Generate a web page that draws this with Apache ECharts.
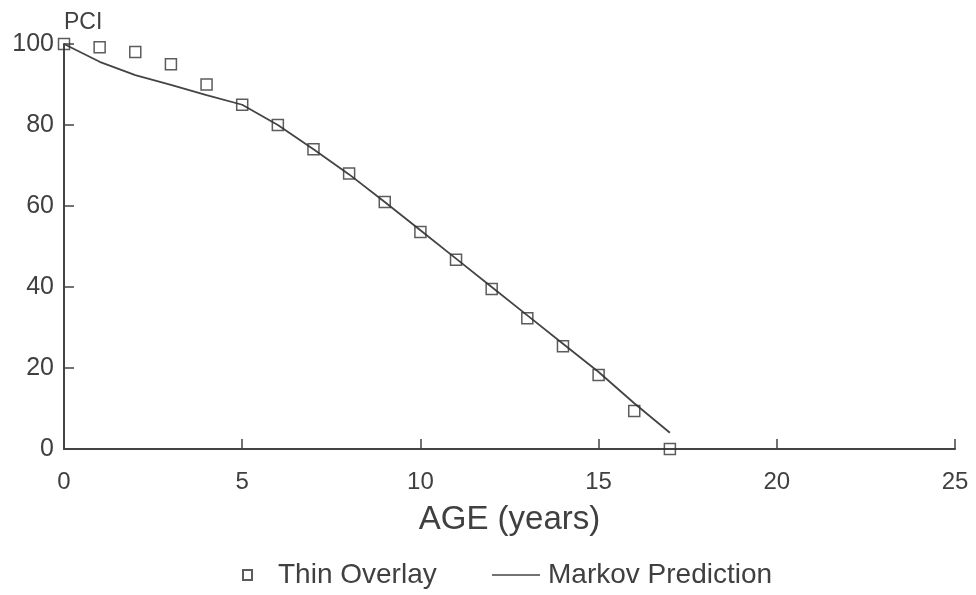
<!DOCTYPE html>
<html>
<head>
<meta charset="utf-8">
<script src="https://cdn.jsdelivr.net/npm/echarts@6/dist/echarts.min.js"></script>
<style>html,body{margin:0;padding:0;background:#fff}#c{width:976px;height:595px}</style>
</head>
<body>
<div id="c"></div>
<script>
// Observed PCI (Thin Overlay) by age
const overlayAge = [0,1,2,3,4,5,6,7,8,9,10,11,12,13,14,15,16,17];
const overlayPCI = [100,99.2,98,95,90,85,80,74,68,61,53.6,46.7,39.5,32.3,25.4,18.3,9.4,0];
// Markov prediction curve
const markovAge = [0,1,2,3,4,5,6,7,8,9,10,11,12,13,14,15,16,17];
const markovPCI = [100,95.6,92.3,89.9,87.4,85,80,74,67.8,61,54,47,40,33,26,19,11.3,4];
const xTicks = [0,5,10,15,20,25];
const yTicks = [0,20,40,60,80,100];

const font = 'Liberation Sans, Arial, sans-serif';
const ink = '#404040';
const chart = echarts.init(document.getElementById('c'));
chart.setOption({
  animation: false,
  backgroundColor: '#fff',
  grid: {left: 64, right: 21, top: 44, bottom: 146, containLabel: false, outerBoundsMode: 'none'},
  xAxis: {
    type: 'value', min: xTicks[0], max: xTicks[xTicks.length-1], interval: 5,
    name: 'AGE (years)', nameLocation: 'middle', nameGap: 54,
    nameTextStyle: {fontSize: 33, color: ink, fontFamily: font},
    axisLine: {lineStyle: {color: '#444', width: 2}},
    axisTick: {inside: true, length: 10, lineStyle: {color: '#444', width: 1.5}},
    axisLabel: {fontSize: 24, color: ink, fontFamily: font, margin: 21},
    splitLine: {show: false}
  },
  yAxis: {
    type: 'value', min: yTicks[0], max: yTicks[yTicks.length-1], interval: 20,
    name: 'PCI', nameLocation: 'end', nameGap: 10,
    nameTextStyle: {fontSize: 23, color: ink, fontFamily: font, align: 'left'},
    axisLine: {show: true, lineStyle: {color: '#444', width: 2}},
    axisTick: {show: true, inside: true, length: 10, lineStyle: {color: '#444', width: 1.5}},
    axisLabel: {fontSize: 25, color: ink, fontFamily: font, margin: 10},
    splitLine: {show: false}
  },
  legend: [
    {data: ['Thin Overlay'], left: 237, top: 556, icon: 'rect', itemWidth: 9, itemHeight: 10,
     textStyle: {fontSize: 28, color: ink, fontFamily: font, padding: [0,0,0,21]}},
    {data: ['Markov Prediction'], left: 487, top: 556, icon: 'rect', itemWidth: 48, itemHeight: 1.6,
     textStyle: {fontSize: 28, color: ink, fontFamily: font, padding: [0,0,0,3]}}
  ],
  series: [
    {name: 'Markov Prediction', type: 'line', data: markovAge.map((a,i)=>[a, markovPCI[i]]),
     showSymbol: false, symbol: 'none', smooth: false,
     lineStyle: {color: '#444', width: 1.8}, itemStyle: {color: '#444'}, z: 2},
    {name: 'Thin Overlay', type: 'scatter', data: overlayAge.map((a,i)=>[a, overlayPCI[i]]),
     symbol: 'rect', symbolSize: 11,
     itemStyle: {color: 'rgba(255,255,255,0)', borderColor: '#333', borderWidth: 1.5}, z: 3}
  ]
});
</script>
</body>
</html>
